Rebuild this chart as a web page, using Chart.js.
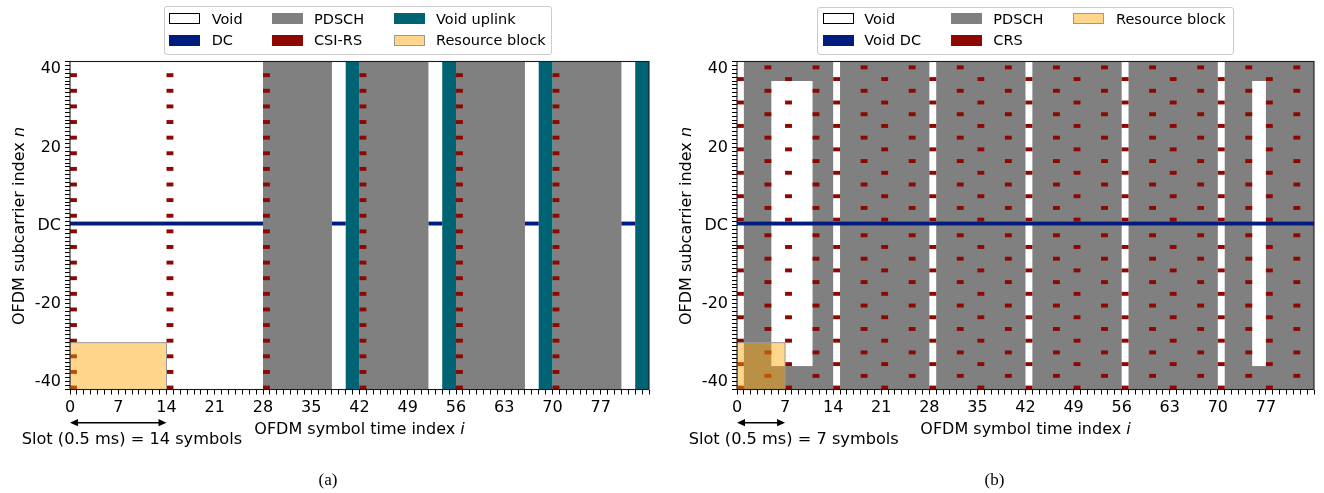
<!DOCTYPE html>
<html>
<head>
<meta charset="utf-8">
<script src="https://cdn.jsdelivr.net/npm/chart.js@4.4.1/dist/chart.umd.min.js"></script>
<style>
  html, body { margin: 0; padding: 0; background: #fff; }
  #page { position: relative; width: 1324px; height: 493px; overflow: hidden;
          font-family: 'DejaVu Sans', sans-serif; color: #000; }
  canvas { position: absolute; top: 0; }
  .t { position: absolute; white-space: nowrap; line-height: 1; }
  .f16 { font-size: 16px; }
  .f145 { font-size: 14.5px; }
  .legend { position: absolute; border: 1px solid #cccccc; border-radius: 3px;
            background: rgba(255,255,255,0.8); box-sizing: border-box; }
  .patch { position: absolute; width: 31px; height: 10.7px; box-sizing: border-box; }
  .ylab { position: absolute; width: 240px; height: 16px; text-align: center;
          transform: rotate(-90deg); transform-origin: 50% 50%; }
  .xlab { position: absolute; width: 300px; text-align: center; }
  .cap { position: absolute; width: 60px; text-align: center; font-family: 'Liberation Serif', serif;
         font-size: 17px; line-height: 1; }
</style>
</head>
<body>
<div id="page">
  <canvas id="nrChart" width="662" height="493" style="left:0px"></canvas>
  <canvas id="lteChart" width="662" height="493" style="left:662px"></canvas>

  <!-- legend (a) -->
  <div class="legend" style="left:164px; top:6px; width:388px; height:48.5px;"></div>
  <div class="patch" style="left:169.3px; top:13.3px; background:#fff; border:1px solid #000;"></div>
  <div class="t f145" style="left:211.7px; top:11.7px;">Void</div>
  <div class="patch" style="left:169.3px; top:35px; background:#001c7f;"></div>
  <div class="t f145" style="left:211.7px; top:33.4px;">DC</div>
  <div class="patch" style="left:271.7px; top:13.3px; background:#808080;"></div>
  <div class="t f145" style="left:314px; top:11.7px;">PDSCH</div>
  <div class="patch" style="left:271.7px; top:35px; background:#8c0800;"></div>
  <div class="t f145" style="left:314px; top:33.4px;">CSI-RS</div>
  <div class="patch" style="left:394.3px; top:13.3px; background:#006374;"></div>
  <div class="t f145" style="left:436px; top:11.7px;">Void uplink</div>
  <div class="patch" style="left:394.3px; top:35px; background:#ffd68c; border:1px solid #999;"></div>
  <div class="t f145" style="left:436px; top:33.4px;">Resource block</div>

  <!-- legend (b) -->
  <div class="legend" style="left:817.3px; top:6.5px; width:416.5px; height:48px;"></div>
  <div class="patch" style="left:822.7px; top:13.3px; background:#fff; border:1px solid #000;"></div>
  <div class="t f145" style="left:864.3px; top:11.7px;">Void</div>
  <div class="patch" style="left:822.7px; top:35px; background:#001c7f;"></div>
  <div class="t f145" style="left:864.3px; top:33.4px;">Void DC</div>
  <div class="patch" style="left:951px; top:13.3px; background:#808080;"></div>
  <div class="t f145" style="left:993.3px; top:11.7px;">PDSCH</div>
  <div class="patch" style="left:951px; top:35px; background:#8c0800;"></div>
  <div class="t f145" style="left:993.3px; top:33.4px;">CRS</div>
  <div class="patch" style="left:1073.3px; top:13.3px; background:#ffd68c; border:1px solid #999;"></div>
  <div class="t f145" style="left:1116px; top:11.7px;">Resource block</div>

  <!-- axis titles -->
  <div class="t f16 ylab" style="left:-101.5px; top:217.5px;">OFDM subcarrier index <i>n</i></div>
  <div class="t f16 ylab" style="left:565.5px; top:217.5px;">OFDM subcarrier index <i>n</i></div>
  <div class="t f16 xlab" style="left:209.5px; top:420.5px;">OFDM symbol time index <i>i</i></div>
  <div class="t f16 xlab" style="left:875.5px; top:420.5px;">OFDM symbol time index <i>i</i></div>

  <!-- slot annotations -->
  <div class="t" style="left:21.7px; top:430.8px; font-size:16.2px;">Slot (0.5 ms) = 14 symbols</div>
  <div class="t" style="left:688.7px; top:430.8px; font-size:16.2px;">Slot (0.5 ms) = 7 symbols</div>

  <!-- sub-figure captions -->
  <div class="cap" style="left:298px; top:471px;">(a)</div>
  <div class="cap" style="left:964.5px; top:471px;">(b)</div>
</div>

<script>
// ---------- shared axes ----------
const symbolMin = 0, symbolMax = 84;          // OFDM symbols shown
const subcarrierMin = -42, subcarrierMax = 42; // subcarrier rows shown
const xTickValues = [0, 7, 14, 21, 28, 35, 42, 49, 56, 63, 70, 77];
const yTickValues = [40, 20, 0, -20, -40];
const yTickLabels = ['40', '20', 'DC', '-20', '-40'];

// ---------- (a) 5G NR frame ----------
const nrPdsch = [[28, 38], [42, 52], [56, 66], [70, 80]];
const nrUplink = [[40, 42], [54, 56], [68, 70], [82, 84]];
const nrDcVoid = [[0, 28], [38, 40], [52, 54], [66, 68], [80, 82]];
const nrCsiRsSymbols = [0, 14, 28, 42, 56, 70];
const nrCsiRsSubcarriers = [38, 34, 30, 26, 22, 18, 14, 10, 6, 2,
                            -2, -6, -10, -14, -18, -22, -26, -30, -34, -38, -42];
const nrResourceBlockSymbols = [0, 14];
const nrResourceBlockSubcarriers = [-42, -30];
const nrSlot = [0, 14];

// ---------- (b) LTE frame ----------
const lteVoidSymbols = [0, 14, 28, 42, 56, 70];
const lteSyncSymbols = [[5, 11], [75, 77]];
const lteSyncSubcarriers = [-36, 37];
const lteCrsSymbolsA = [0, 7, 14, 21, 28, 35, 42, 49, 56, 63, 70, 77];
const lteCrsSubcarriersA = [37, 31, 25, 19, 13, 7, 1, -6, -12, -18, -24, -30, -36, -42];
const lteCrsSymbolsB = [4, 11, 18, 25, 32, 39, 46, 53, 60, 67, 74, 81];
const lteCrsSubcarriersB = [40, 34, 28, 22, 16, 10, 4, -3, -9, -15, -21, -27, -33, -39];
const lteResourceBlockSymbols = [0, 7];
const lteResourceBlockSubcarriers = [-42, -30];
const lteSlot = [0, 7];

const COLORS = {
  void: '#ffffff', dc: '#001c7f', pdsch: '#808080', ref: '#8c0800',
  uplink: '#006374', rb: 'rgba(255,165,0,0.45)', rbEdge: '#999999'
};

Chart.defaults.font.family = "'DejaVu Sans', sans-serif";
Chart.defaults.color = '#000';

// fill a block of cells [s0,s1) x [n0,n1) using the chart scales
function fillCells(chart, s0, s1, n0, n1, color) {
  const xs = chart.scales.x, ys = chart.scales.y;
  const l = xs.getPixelForValue(s0), r = xs.getPixelForValue(s1);
  const t = ys.getPixelForValue(n1), b = ys.getPixelForValue(n0);
  const ctx = chart.ctx;
  ctx.fillStyle = color;
  ctx.fillRect(l, t, r - l, b - t);
  return [l, t, r - l, b - t];
}

function drawResourceBlock(chart, syms, subs) {
  const rect = fillCells(chart, syms[0], syms[1], subs[0], subs[1], COLORS.rb);
  const ctx = chart.ctx;
  ctx.strokeStyle = COLORS.rbEdge;
  ctx.lineWidth = 1;
  ctx.strokeRect(rect[0], rect[1], rect[2], rect[3]);
}

function drawSlotArrow(chart, slot) {
  const ctx = chart.ctx, xs = chart.scales.x;
  const x0 = xs.getPixelForValue(slot[0]), x1 = xs.getPixelForValue(slot[1]);
  const y = 422.7, hl = 8, hw = 3.6;
  ctx.save();
  ctx.strokeStyle = '#000';
  ctx.fillStyle = '#000';
  ctx.lineWidth = 1.4;
  ctx.beginPath();
  ctx.moveTo(x0 + hl - 1, y); ctx.lineTo(x1 - hl + 1, y);
  ctx.stroke();
  ctx.beginPath();
  ctx.moveTo(x0, y); ctx.lineTo(x0 + hl, y - hw); ctx.lineTo(x0 + hl, y + hw); ctx.closePath();
  ctx.fill();
  ctx.beginPath();
  ctx.moveTo(x1, y); ctx.lineTo(x1 - hl, y - hw); ctx.lineTo(x1 - hl, y + hw); ctx.closePath();
  ctx.fill();
  ctx.restore();
}

function drawFrameBorder(chart) {
  const a = chart.chartArea, ctx = chart.ctx;
  ctx.save();
  ctx.strokeStyle = '#1a1a1a';
  ctx.lineWidth = 1.1;
  ctx.strokeRect(a.left, a.top, a.right - a.left, a.bottom - a.top);
  ctx.restore();
}

const nrGridPlugin = {
  id: 'nrGrid',
  beforeDatasetsDraw(chart) {
    const ctx = chart.ctx, a = chart.chartArea;
    ctx.save();
    ctx.beginPath(); ctx.rect(a.left, a.top, a.right - a.left, a.bottom - a.top); ctx.clip();
    fillCells(chart, symbolMin, symbolMax, subcarrierMin, subcarrierMax, COLORS.void);
    nrPdsch.forEach(([s0, s1]) => fillCells(chart, s0, s1, subcarrierMin, subcarrierMax, COLORS.pdsch));
    nrUplink.forEach(([s0, s1]) => fillCells(chart, s0, s1, subcarrierMin, subcarrierMax, COLORS.uplink));
    nrDcVoid.forEach(([s0, s1]) => fillCells(chart, s0, s1, 0, 1, COLORS.dc));
    nrCsiRsSymbols.forEach(s => nrCsiRsSubcarriers.forEach(n => fillCells(chart, s, s + 1, n, n + 1, COLORS.ref)));
    drawResourceBlock(chart, nrResourceBlockSymbols, nrResourceBlockSubcarriers);
    ctx.restore();
  },
  afterDraw(chart) {
    drawFrameBorder(chart);
    drawSlotArrow(chart, nrSlot);
  }
};

const lteGridPlugin = {
  id: 'lteGrid',
  beforeDatasetsDraw(chart) {
    const ctx = chart.ctx, a = chart.chartArea;
    ctx.save();
    ctx.beginPath(); ctx.rect(a.left, a.top, a.right - a.left, a.bottom - a.top); ctx.clip();
    fillCells(chart, symbolMin, symbolMax, subcarrierMin, subcarrierMax, COLORS.pdsch);
    lteVoidSymbols.forEach(s => fillCells(chart, s, s + 1, subcarrierMin, subcarrierMax, COLORS.void));
    lteSyncSymbols.forEach(([s0, s1]) => fillCells(chart, s0, s1, lteSyncSubcarriers[0], lteSyncSubcarriers[1], COLORS.void));
    fillCells(chart, symbolMin, symbolMax, 0, 1, COLORS.dc);
    lteCrsSymbolsA.forEach(s => lteCrsSubcarriersA.forEach(n => fillCells(chart, s, s + 1, n, n + 1, COLORS.ref)));
    lteCrsSymbolsB.forEach(s => lteCrsSubcarriersB.forEach(n => fillCells(chart, s, s + 1, n, n + 1, COLORS.ref)));
    drawResourceBlock(chart, lteResourceBlockSymbols, lteResourceBlockSubcarriers);
    ctx.restore();
  },
  afterDraw(chart) {
    drawFrameBorder(chart);
    drawSlotArrow(chart, lteSlot);
  }
};

function makeOptions(yAxisWidth, padRight) {
  return {
    responsive: false,
    animation: false,
    events: [],
    layout: { padding: { top: 61.5, right: padRight, bottom: 0, left: 0 } },
    plugins: { legend: { display: false }, tooltip: { enabled: false } },
    scales: {
      x: {
        type: 'linear', position: 'bottom', min: symbolMin, max: symbolMax,
        ticks: {
          stepSize: 1, autoSkip: false, maxRotation: 0, minRotation: 0,
          color: '#000', font: { size: 16 }, padding: 4,
          callback: v => (xTickValues.includes(v) ? String(v) : '')
        },
        grid: { drawOnChartArea: false, drawTicks: true, tickLength: 5, tickColor: '#000', tickWidth: 1 },
        border: { display: false },
        afterFit: s => { s.height = 493 - 389.5; }
      },
      y: {
        type: 'linear', position: 'left', min: subcarrierMin, max: subcarrierMax,
        ticks: {
          stepSize: 1, autoSkip: false, color: '#000', font: { size: 16 }, padding: 4,
          callback: v => { const i = yTickValues.indexOf(v); return i >= 0 ? yTickLabels[i] : ''; }
        },
        grid: { drawOnChartArea: false, drawTicks: true, tickLength: 5, tickColor: '#000', tickWidth: 1 },
        border: { display: false },
        afterFit: s => { s.width = yAxisWidth; }
      }
    }
  };
}

new Chart(document.getElementById('nrChart'), {
  type: 'scatter',
  data: { datasets: [] },
  options: makeOptions(70, 13),
  plugins: [nrGridPlugin]
});

new Chart(document.getElementById('lteChart'), {
  type: 'scatter',
  data: { datasets: [] },
  options: makeOptions(75, 10),
  plugins: [lteGridPlugin]
});
</script>
</body>
</html>
